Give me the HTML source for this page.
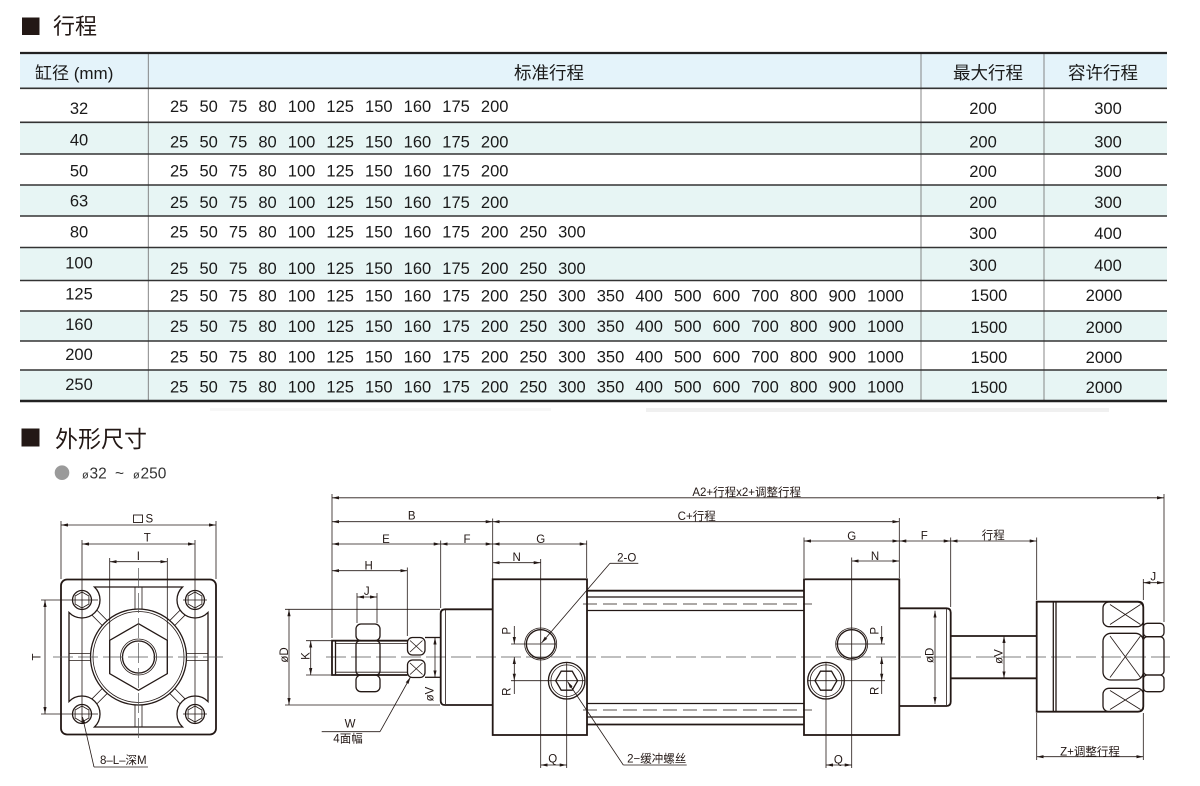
<!DOCTYPE html>
<html><head><meta charset="utf-8"><style>
html,body{margin:0;padding:0;background:#fff;}
svg{display:block;}
</style></head><body>
<svg width="1200" height="786" viewBox="0 0 1200 786" xmlns="http://www.w3.org/2000/svg" font-family="'Liberation Sans','Noto Sans CJK SC',sans-serif">
<style>
.o{fill:none;stroke:#231815;stroke-width:1.8}
.m{fill:none;stroke:#231815;stroke-width:1.3}
.t{fill:none;stroke:#231815;stroke-width:.8}
.d{fill:none;stroke:#231815;stroke-width:.8;marker-start:url(#a);marker-end:url(#a)}
.e{fill:none;stroke:#231815;stroke-width:.8;marker-end:url(#a)}
.c{fill:none;stroke:#555;stroke-width:.7;stroke-dasharray:20 5}
.l{font-size:11.5px;text-anchor:middle;fill:#231815}
.z{font-size:11.5px;text-anchor:middle;fill:#231815}
.n{font-size:16.5px;fill:#1a1a1a}
.nm{font-size:16.5px;fill:#1a1a1a;text-anchor:middle}
.h{font-size:17.5px;fill:#1a1a1a;text-anchor:middle}
</style>
<defs>
<marker id="a" viewBox="0 0 7 3.2" refX="7" refY="1.6" markerWidth="7" markerHeight="3.2" markerUnits="userSpaceOnUse" orient="auto-start-reverse" preserveAspectRatio="none"><path d="M0,0 L7,1.6 L0,3.2 z" fill="#231815"/></marker>
<g id="rib"><line x1="186.5" y1="653.5" x2="208" y2="653.5"/><line x1="186.5" y1="660.5" x2="208" y2="660.5"/></g>
<g id="drib"><line x1="186.4" y1="653.5" x2="201.1" y2="653.5"/><line x1="186.4" y1="660.5" x2="201.1" y2="660.5"/></g>
</defs>

<!-- Section 1 title -->
<rect x="22" y="17.5" width="17.5" height="17.5" fill="#231815"/>
<text x="53" y="34" font-size="22" fill="#231815">行程</text>

<!-- Table backgrounds -->
<rect x="20" y="53" width="1147" height="35.3" fill="#e4f3fa"/>
<rect x="20" y="122.3" width="1147" height="31.7" fill="#e7f5f4"/>
<rect x="20" y="185" width="1147" height="31" fill="#e7f5f4"/>
<rect x="20" y="247.5" width="1147" height="33" fill="#e7f5f4"/>
<rect x="20" y="311" width="1147" height="30" fill="#e7f5f4"/>
<rect x="20" y="370" width="1147" height="31" fill="#e7f5f4"/>

<!-- column lines -->
<g stroke="#7a7a7a" stroke-width=".9">
<line x1="148.3" y1="53" x2="148.3" y2="401"/>
<line x1="921" y1="53" x2="921" y2="401"/>
<line x1="1044" y1="53" x2="1044" y2="401"/>
</g>
<!-- row lines -->
<g stroke="#333" stroke-width="1.6">
<line x1="20" y1="88.3" x2="1167" y2="88.3"/>
<line x1="20" y1="122.3" x2="1167" y2="122.3"/>
<line x1="20" y1="154" x2="1167" y2="154"/>
<line x1="20" y1="185" x2="1167" y2="185"/>
<line x1="20" y1="216" x2="1167" y2="216"/>
<line x1="20" y1="247.5" x2="1167" y2="247.5"/>
<line x1="20" y1="280.5" x2="1167" y2="280.5"/>
<line x1="20" y1="311" x2="1167" y2="311"/>
<line x1="20" y1="341" x2="1167" y2="341"/>
<line x1="20" y1="370" x2="1167" y2="370"/>
</g>
<line x1="20" y1="53" x2="1167" y2="53" stroke="#222" stroke-width="2.2"/>
<line x1="20" y1="401" x2="1167" y2="401" stroke="#222" stroke-width="2.6"/>

<!-- header texts -->
<text x="35" y="79" font-size="17" fill="#1a1a1a">缸径 (mm)</text>
<text x="549" y="79" class="h">标准行程</text>
<text x="988" y="79" class="h">最大行程</text>
<text x="1103" y="79" class="h">容许行程</text>

<!-- bore column -->
<text x="79" y="113.9" class="nm">32</text>
<text x="79" y="145.4" class="nm">40</text>
<text x="79" y="176.6" class="nm">50</text>
<text x="79" y="206.6" class="nm">63</text>
<text x="79" y="237.6" class="nm">80</text>
<text x="79" y="268.6" class="nm">100</text>
<text x="79" y="299.4" class="nm">125</text>
<text x="79" y="329.9" class="nm">160</text>
<text x="79" y="359.9" class="nm">200</text>
<text x="79" y="389.9" class="nm">250</text>

<!-- stroke rows -->
<text y="111.9" class="n"><tspan x="170">25</tspan> <tspan x="199.45">50</tspan> <tspan x="228.9">75</tspan> <tspan x="258.35">80</tspan> <tspan x="287.8">100</tspan> <tspan x="326.42">125</tspan> <tspan x="365.04">150</tspan> <tspan x="403.66">160</tspan> <tspan x="442.28">175</tspan> <tspan x="480.9">200</tspan></text>
<text y="147.4" class="n"><tspan x="170">25</tspan> <tspan x="199.45">50</tspan> <tspan x="228.9">75</tspan> <tspan x="258.35">80</tspan> <tspan x="287.8">100</tspan> <tspan x="326.42">125</tspan> <tspan x="365.04">150</tspan> <tspan x="403.66">160</tspan> <tspan x="442.28">175</tspan> <tspan x="480.9">200</tspan></text>
<text y="176.6" class="n"><tspan x="170">25</tspan> <tspan x="199.45">50</tspan> <tspan x="228.9">75</tspan> <tspan x="258.35">80</tspan> <tspan x="287.8">100</tspan> <tspan x="326.42">125</tspan> <tspan x="365.04">150</tspan> <tspan x="403.66">160</tspan> <tspan x="442.28">175</tspan> <tspan x="480.9">200</tspan></text>
<text y="208.2" class="n"><tspan x="170">25</tspan> <tspan x="199.45">50</tspan> <tspan x="228.9">75</tspan> <tspan x="258.35">80</tspan> <tspan x="287.8">100</tspan> <tspan x="326.42">125</tspan> <tspan x="365.04">150</tspan> <tspan x="403.66">160</tspan> <tspan x="442.28">175</tspan> <tspan x="480.9">200</tspan></text>
<text y="237.6" class="n"><tspan x="170">25</tspan> <tspan x="199.45">50</tspan> <tspan x="228.9">75</tspan> <tspan x="258.35">80</tspan> <tspan x="287.8">100</tspan> <tspan x="326.42">125</tspan> <tspan x="365.04">150</tspan> <tspan x="403.66">160</tspan> <tspan x="442.28">175</tspan> <tspan x="480.9">200</tspan> <tspan x="519.52">250</tspan> <tspan x="558.14">300</tspan></text>
<text y="274.2" class="n"><tspan x="170">25</tspan> <tspan x="199.45">50</tspan> <tspan x="228.9">75</tspan> <tspan x="258.35">80</tspan> <tspan x="287.8">100</tspan> <tspan x="326.42">125</tspan> <tspan x="365.04">150</tspan> <tspan x="403.66">160</tspan> <tspan x="442.28">175</tspan> <tspan x="480.9">200</tspan> <tspan x="519.52">250</tspan> <tspan x="558.14">300</tspan></text>
<text y="301.6" class="n"><tspan x="170">25</tspan> <tspan x="199.45">50</tspan> <tspan x="228.9">75</tspan> <tspan x="258.35">80</tspan> <tspan x="287.8">100</tspan> <tspan x="326.42">125</tspan> <tspan x="365.04">150</tspan> <tspan x="403.66">160</tspan> <tspan x="442.28">175</tspan> <tspan x="480.9">200</tspan> <tspan x="519.52">250</tspan> <tspan x="558.14">300</tspan> <tspan x="596.76">350</tspan> <tspan x="635.38">400</tspan> <tspan x="674">500</tspan> <tspan x="712.62">600</tspan> <tspan x="751.24">700</tspan> <tspan x="789.86">800</tspan> <tspan x="828.48">900</tspan> <tspan x="867.1">1000</tspan></text>
<text y="332.2" class="n"><tspan x="170">25</tspan> <tspan x="199.45">50</tspan> <tspan x="228.9">75</tspan> <tspan x="258.35">80</tspan> <tspan x="287.8">100</tspan> <tspan x="326.42">125</tspan> <tspan x="365.04">150</tspan> <tspan x="403.66">160</tspan> <tspan x="442.28">175</tspan> <tspan x="480.9">200</tspan> <tspan x="519.52">250</tspan> <tspan x="558.14">300</tspan> <tspan x="596.76">350</tspan> <tspan x="635.38">400</tspan> <tspan x="674">500</tspan> <tspan x="712.62">600</tspan> <tspan x="751.24">700</tspan> <tspan x="789.86">800</tspan> <tspan x="828.48">900</tspan> <tspan x="867.1">1000</tspan></text>
<text y="362.6" class="n"><tspan x="170">25</tspan> <tspan x="199.45">50</tspan> <tspan x="228.9">75</tspan> <tspan x="258.35">80</tspan> <tspan x="287.8">100</tspan> <tspan x="326.42">125</tspan> <tspan x="365.04">150</tspan> <tspan x="403.66">160</tspan> <tspan x="442.28">175</tspan> <tspan x="480.9">200</tspan> <tspan x="519.52">250</tspan> <tspan x="558.14">300</tspan> <tspan x="596.76">350</tspan> <tspan x="635.38">400</tspan> <tspan x="674">500</tspan> <tspan x="712.62">600</tspan> <tspan x="751.24">700</tspan> <tspan x="789.86">800</tspan> <tspan x="828.48">900</tspan> <tspan x="867.1">1000</tspan></text>
<text y="392.6" class="n"><tspan x="170">25</tspan> <tspan x="199.45">50</tspan> <tspan x="228.9">75</tspan> <tspan x="258.35">80</tspan> <tspan x="287.8">100</tspan> <tspan x="326.42">125</tspan> <tspan x="365.04">150</tspan> <tspan x="403.66">160</tspan> <tspan x="442.28">175</tspan> <tspan x="480.9">200</tspan> <tspan x="519.52">250</tspan> <tspan x="558.14">300</tspan> <tspan x="596.76">350</tspan> <tspan x="635.38">400</tspan> <tspan x="674">500</tspan> <tspan x="712.62">600</tspan> <tspan x="751.24">700</tspan> <tspan x="789.86">800</tspan> <tspan x="828.48">900</tspan> <tspan x="867.1">1000</tspan></text>

<!-- right columns -->
<text x="983" y="113.9" class="nm">200</text><text x="1108" y="113.9" class="nm">300</text>
<text x="983" y="147.4" class="nm">200</text><text x="1108" y="147.4" class="nm">300</text>
<text x="983" y="176.9" class="nm">200</text><text x="1108" y="176.9" class="nm">300</text>
<text x="983" y="207.9" class="nm">200</text><text x="1108" y="207.9" class="nm">300</text>
<text x="983" y="238.9" class="nm">300</text><text x="1108" y="238.9" class="nm">400</text>
<text x="983" y="270.9" class="nm">300</text><text x="1108" y="270.9" class="nm">400</text>
<text x="989" y="300.9" class="nm">1500</text><text x="1104" y="300.9" class="nm">2000</text>
<text x="989" y="332.9" class="nm">1500</text><text x="1104" y="332.9" class="nm">2000</text>
<text x="989" y="362.9" class="nm">1500</text><text x="1104" y="362.9" class="nm">2000</text>
<text x="989" y="392.9" class="nm">1500</text><text x="1104" y="392.9" class="nm">2000</text>

<!-- faint artifacts -->
<rect x="646" y="408" width="463" height="4" fill="#f0f0f0"/>
<rect x="210" y="408" width="341" height="3" fill="#f7f7f7"/>

<!-- Section 2 title -->
<rect x="21.5" y="428.5" width="18" height="18" fill="#231815"/>
<text x="55" y="447" font-size="23" fill="#231815">外形尺寸</text>
<circle cx="62" cy="472.7" r="7.3" fill="#9a9a9a"/>
<text y="478.5" font-size="15.5" fill="#333"><tspan x="82" font-size="11">ø</tspan><tspan x="89.5">32</tspan> <tspan x="115">~</tspan> <tspan x="133" font-size="11">ø</tspan><tspan x="140.5">250</tspan></text>

<!-- ================= END VIEW ================= -->
<rect x="61" y="579.5" width="155" height="155" rx="6" class="o"/>
<path class="m" d="M94.45,587 L182.55,587 A18,18 0 1 0 208,612.45 L208,701.55 A18,18 0 1 0 182.55,727 L94.45,727 A18,18 0 1 0 69,701.55 L69,612.45 A18,18 0 1 0 94.45,587 Z"/>
<g class="t" stroke-width="1">
<use href="#rib"/>
<use href="#rib" transform="rotate(90 138.5 657)"/>
<use href="#rib" transform="rotate(180 138.5 657)"/>
<use href="#rib" transform="rotate(270 138.5 657)"/>
<use href="#drib" transform="rotate(45.2 138.5 657)"/>
<use href="#drib" transform="rotate(134.8 138.5 657)"/>
<use href="#drib" transform="rotate(225.2 138.5 657)"/>
<use href="#drib" transform="rotate(314.8 138.5 657)"/>
</g>
<!-- bolt holes -->
<circle cx="82" cy="600" r="9.5" class="m"/><polygon class="t" points="82,592 88.9,596 88.9,604 82,608 75.1,604 75.1,596"/>
<circle cx="195" cy="600" r="9.5" class="m"/><polygon class="t" points="195,592 201.9,596 201.9,604 195,608 188.1,604 188.1,596"/>
<circle cx="82" cy="714" r="9.5" class="m"/><polygon class="t" points="82,706 88.9,710 88.9,718 82,722 75.1,718 75.1,710"/>
<circle cx="195" cy="714" r="9.5" class="m"/><polygon class="t" points="195,706 201.9,710 201.9,718 195,722 188.1,718 188.1,710"/>
<circle cx="138.5" cy="657" r="48" class="m"/>
<circle cx="138.5" cy="657" r="45.5" class="t"/>
<polygon class="m" points="138.5,623.7 167.3,640.35 167.3,673.65 138.5,690.3 109.7,673.65 109.7,640.35"/>
<circle cx="138.5" cy="657" r="18" class="t"/>
<circle cx="138.5" cy="657" r="16" class="m"/>
<!-- end view center lines -->
<line x1="53" y1="657" x2="228" y2="657" class="c"/>
<line x1="138.5" y1="568" x2="138.5" y2="743" class="c"/>
<!-- end view dims -->
<line x1="61" y1="521" x2="61" y2="579" class="t"/>
<line x1="216" y1="521" x2="216" y2="579" class="t"/>
<line x1="61" y1="525" x2="216" y2="525" class="d"/>
<rect x="133.5" y="515" width="9" height="7.5" fill="none" stroke="#231815" stroke-width=".9"/>
<text x="149.3" y="522.3" class="l">S</text>
<line x1="82" y1="540" x2="82" y2="723" class="t"/>
<line x1="195" y1="540" x2="195" y2="723" class="t"/>
<line x1="82" y1="544" x2="195" y2="544" class="d"/>
<text x="147.3" y="541.7" class="l">T</text>
<line x1="109.7" y1="558" x2="109.7" y2="674" class="t"/>
<line x1="167.3" y1="558" x2="167.3" y2="674" class="t"/>
<line x1="109.7" y1="561.7" x2="167.3" y2="561.7" class="d"/>
<text x="138.3" y="560" class="l">I</text>
<line x1="41" y1="600" x2="98" y2="600" class="t"/>
<line x1="41" y1="714" x2="98" y2="714" class="t"/>
<line x1="183" y1="600" x2="207" y2="600" class="t"/>
<line x1="183" y1="714" x2="207" y2="714" class="t"/>
<line x1="45" y1="600" x2="45" y2="714" class="d"/>
<text transform="translate(40.5,657) rotate(-90)" class="l">T</text>
<line x1="94" y1="767" x2="148" y2="767" class="t"/>
<line x1="94" y1="767" x2="82.5" y2="717" class="e"/>
<text x="123.3" y="764" class="z">8–L–深M</text>

<!-- ================= SIDE VIEW ================= -->
<line x1="326" y1="657" x2="1170" y2="657" class="c"/>

<!-- front threaded rod -->
<line x1="336" y1="643.5" x2="407" y2="643.5" class="t"/>
<line x1="336" y1="672.2" x2="407" y2="672.2" class="t"/>
<path class="o" d="M407.5,640.7 H332 V675 H407.5"/>
<line x1="335.5" y1="641" x2="335.5" y2="675" class="m"/>
<!-- nut -->
<rect x="356" y="624" width="24" height="16.7" rx="5" fill="#fff" class="m"/>
<rect x="356" y="640.7" width="24" height="34.3" rx="4" fill="#fff" class="m"/>
<rect x="356" y="675" width="24" height="16.7" rx="5" fill="#fff" class="m"/>
<!-- wrench flats -->
<rect x="407.5" y="637.5" width="17.5" height="17.5" rx="5" fill="#fff" class="m"/>
<rect x="407.5" y="660" width="17.5" height="17.5" rx="5" fill="#fff" class="m"/>
<g class="t">
<line x1="410" y1="640.5" x2="422.5" y2="652"/><line x1="422.5" y1="640.5" x2="410" y2="652"/>
<line x1="410" y1="663" x2="422.5" y2="674.5"/><line x1="422.5" y1="663" x2="410" y2="674.5"/>
</g>
<line x1="425" y1="637.5" x2="441" y2="637.5" class="m"/>
<line x1="425" y1="677.3" x2="441" y2="677.3" class="m"/>
<!-- front rod cover -->
<path class="o" d="M492.7,609.3 H445 Q440.7,609.3 440.7,613.6 V700.7 Q440.7,705 445,705 H492.7"/>
<line x1="445.5" y1="610" x2="445.5" y2="704" class="t"/>
<!-- front cover -->
<rect x="492.7" y="579.3" width="94.3" height="155.7" class="o"/>
<!-- tube -->
<line x1="587" y1="590.7" x2="804" y2="590.7" class="o"/>
<line x1="587" y1="724.5" x2="804" y2="724.5" class="o"/>
<g class="m" stroke-width="1.5">
<line x1="587" y1="597" x2="804" y2="597"/>
<line x1="587" y1="610.5" x2="804" y2="610.5"/>
<line x1="587" y1="703.5" x2="804" y2="703.5"/>
<line x1="587" y1="717" x2="804" y2="717"/>
</g>
<line x1="583" y1="604" x2="812" y2="604" class="t" stroke-dasharray="14 6"/>
<line x1="583" y1="710" x2="812" y2="710" class="t" stroke-dasharray="14 6"/>
<!-- rear cover -->
<rect x="804" y="579.3" width="95.3" height="155.7" class="o"/>
<!-- rear rod cover -->
<path class="o" d="M899.3,608.3 H946.5 Q950.7,608.3 950.7,612.5 V701.8 Q950.7,706 946.5,706 H899.3"/>
<line x1="946.5" y1="609" x2="946.5" y2="705" class="t"/>
<!-- rear rod -->
<line x1="950.7" y1="636" x2="1036.7" y2="636" class="o"/>
<line x1="950.7" y1="678.3" x2="1036.7" y2="678.3" class="o"/>
<!-- adjuster body -->
<path class="o" d="M1036.7,601.7 H1138 Q1143.3,601.7 1143.3,607 V706.4 Q1143.3,711.7 1138,711.7 H1036.7 Z"/>
<line x1="1053.3" y1="602" x2="1053.3" y2="711.5" class="m"/>
<line x1="1056" y1="602" x2="1056" y2="711.5" class="m"/>
<rect x="1103" y="602" width="40.3" height="24.7" rx="6" fill="#fff" class="m"/>
<rect x="1103" y="633.3" width="40.3" height="46.7" rx="8" fill="#fff" class="m"/>
<rect x="1103" y="688.3" width="40.3" height="23.4" rx="6" fill="#fff" class="m"/>
<g class="t">
<line x1="1110" y1="604.5" x2="1140.5" y2="624.5"/><line x1="1140.5" y1="604.5" x2="1110" y2="624.5"/>
<line x1="1110" y1="636" x2="1140.5" y2="677.5"/><line x1="1140.5" y1="636" x2="1110" y2="677.5"/>
<line x1="1110" y1="690.5" x2="1140.5" y2="709.5"/><line x1="1140.5" y1="690.5" x2="1110" y2="709.5"/>
</g>
<!-- rear nut -->
<rect x="1143.3" y="623.3" width="20.7" height="13.4" rx="4" fill="#fff" class="m"/>
<rect x="1143.3" y="636.7" width="20.7" height="38.3" rx="4" fill="#fff" class="m"/>
<rect x="1143.3" y="675" width="20.7" height="16.7" rx="4" fill="#fff" class="m"/>

<!-- ports & sockets -->
<line x1="511" y1="644" x2="556" y2="644" class="t"/>
<line x1="511" y1="680.7" x2="585" y2="680.7" class="t"/>
<line x1="836" y1="644" x2="885" y2="644" class="t"/>
<line x1="808" y1="680.7" x2="885" y2="680.7" class="t"/>
<circle cx="540.7" cy="644" r="16" class="t"/>
<circle cx="540.7" cy="644" r="14.3" class="m" stroke-width="1.4"/>
<circle cx="851.7" cy="644" r="16" class="t"/>
<circle cx="851.7" cy="644" r="14.3" class="m" stroke-width="1.4"/>
<circle cx="566.7" cy="680.7" r="18.3" class="m" stroke-width="1.4"/>
<circle cx="566.7" cy="680.7" r="15.8" class="t"/>
<polygon class="m" stroke-width="1.1" points="577.7,680.7 572.2,690.2 561.2,690.2 555.7,680.7 561.2,671.2 572.2,671.2"/>
<circle cx="826" cy="680.7" r="18.3" class="m" stroke-width="1.4"/>
<circle cx="826" cy="680.7" r="15.8" class="t"/>
<polygon class="m" stroke-width="1.1" points="837,680.7 831.5,690.2 820.5,690.2 815,680.7 820.5,671.2 831.5,671.2"/>

<!-- extension lines -->
<g class="t">
<line x1="332" y1="494" x2="332" y2="638"/>
<line x1="1164" y1="494" x2="1164" y2="622"/>
<line x1="492.7" y1="518.5" x2="492.7" y2="579"/>
<line x1="440.7" y1="540.5" x2="440.7" y2="608"/>
<line x1="407.3" y1="567.5" x2="407.3" y2="636"/>
<line x1="357" y1="593" x2="357" y2="623"/>
<line x1="377" y1="593" x2="377" y2="623"/>
<line x1="586.7" y1="540.5" x2="586.7" y2="578"/>
<line x1="540.7" y1="559" x2="540.7" y2="768"/>
<line x1="566.7" y1="662" x2="566.7" y2="768"/>
<line x1="804" y1="537.5" x2="804" y2="578"/>
<line x1="851.7" y1="557.5" x2="851.7" y2="768"/>
<line x1="826" y1="662" x2="826" y2="768"/>
<line x1="899.3" y1="518" x2="899.3" y2="578"/>
<line x1="950.7" y1="537.5" x2="950.7" y2="607"/>
<line x1="1036.7" y1="537.5" x2="1036.7" y2="600"/>
<line x1="1036.7" y1="713" x2="1036.7" y2="760"/>
<line x1="1143.3" y1="579" x2="1143.3" y2="600"/>
<line x1="1143.3" y1="713" x2="1143.3" y2="760"/>
<line x1="285" y1="609.3" x2="440" y2="609.3"/>
<line x1="285" y1="705" x2="440" y2="705"/>
<line x1="306" y1="640.7" x2="331" y2="640.7"/>
<line x1="306" y1="675" x2="331" y2="675"/>
</g>

<!-- dimension lines -->
<line x1="332" y1="497.8" x2="1164" y2="497.8" class="d"/>
<line x1="332" y1="521.7" x2="492.7" y2="521.7" class="d"/>
<line x1="492.7" y1="521.7" x2="899.3" y2="521.7" class="d"/>
<line x1="332" y1="544" x2="440.7" y2="544" class="d"/>
<line x1="440.7" y1="544" x2="492.7" y2="544" class="d"/>
<line x1="492.7" y1="544" x2="586.7" y2="544" class="d"/>
<line x1="492.7" y1="562.7" x2="540.7" y2="562.7" class="d"/>
<line x1="332" y1="570.7" x2="407.3" y2="570.7" class="d"/>
<line x1="357" y1="597" x2="377" y2="597" class="d"/>
<line x1="540.7" y1="765" x2="566.7" y2="765" class="d"/>
<line x1="804" y1="541" x2="899.3" y2="541" class="d"/>
<line x1="899.3" y1="541" x2="950.7" y2="541" class="d"/>
<line x1="950.7" y1="541" x2="1036.7" y2="541" class="d"/>
<line x1="851.7" y1="561" x2="899.3" y2="561" class="d"/>
<line x1="1143.3" y1="582.7" x2="1164" y2="582.7" class="d"/>
<line x1="826" y1="765" x2="851.7" y2="765" class="d"/>
<line x1="1036.7" y1="756.7" x2="1143.3" y2="756.7" class="d"/>
<line x1="289" y1="609.3" x2="289" y2="705" class="d"/>
<line x1="310.7" y1="640.7" x2="310.7" y2="675" class="d"/>
<line x1="435" y1="637.5" x2="435" y2="677.3" class="d"/>
<line x1="935" y1="610.7" x2="935" y2="704" class="d"/>
<line x1="1004" y1="636" x2="1004" y2="678.3" class="d"/>
<!-- P / R front -->
<line x1="514.3" y1="626" x2="514.3" y2="644" class="e"/>
<line x1="514.3" y1="657" x2="514.3" y2="680.7" class="d"/>
<line x1="514.3" y1="680.7" x2="514.3" y2="694" class="t"/>
<!-- P / R rear -->
<line x1="881.7" y1="626" x2="881.7" y2="644" class="e"/>
<line x1="881.7" y1="657" x2="881.7" y2="680.7" class="d"/>
<line x1="881.7" y1="680.7" x2="881.7" y2="694" class="t"/>

<!-- leaders -->
<line x1="610" y1="563.3" x2="638.3" y2="563.3" class="t"/>
<line x1="610" y1="563.3" x2="541.5" y2="643" class="e"/>
<line x1="623.3" y1="765" x2="686.7" y2="765" class="t"/>
<line x1="623.3" y1="765" x2="567.5" y2="681.5" class="e"/>
<line x1="321.7" y1="731.7" x2="380" y2="731.7" class="t"/>
<line x1="380" y1="731.7" x2="410.5" y2="677" class="e"/>

<!-- labels -->
<text x="746.7" y="496" class="z">A2+行程x2+调整行程</text>
<text x="411.7" y="519.3" class="l">B</text>
<text x="696.7" y="519.8" class="z">C+行程</text>
<text x="386" y="543" class="l">E</text>
<text x="467" y="543" class="l">F</text>
<text x="540.7" y="543" class="l">G</text>
<text x="516.7" y="561.2" class="l">N</text>
<text x="368.7" y="569.3" class="l">H</text>
<text x="366.7" y="595" class="l">J</text>
<text x="552.7" y="762.7" class="l">Q</text>
<text x="851.7" y="540" class="l">G</text>
<text x="924.3" y="539.3" class="l">F</text>
<text x="993.3" y="539" class="z">行程</text>
<text x="875" y="560" class="l">N</text>
<text x="1153.3" y="580.7" class="l">J</text>
<text x="838.3" y="763.5" class="l">Q</text>
<text x="1090" y="755.3" class="z">Z+调整行程</text>
<text x="626.7" y="561.5" class="z" font-size="12">2-O</text>
<text x="656.7" y="762.5" class="z" font-size="12">2−缓冲螺丝</text>
<text x="350" y="727.5" class="l">W</text>
<text x="348" y="742.5" class="z" font-size="10.5">4面幅</text>
<text transform="translate(288,655) rotate(-90)" class="l">øD</text>
<text transform="translate(309.5,656) rotate(-90)" class="l">K</text>
<text transform="translate(433.5,694) rotate(-90)" class="l">øV</text>
<text transform="translate(510.7,630.8) rotate(-90)" class="l">P</text>
<text transform="translate(510.7,691.7) rotate(-90)" class="l">R</text>
<text transform="translate(878.5,630.8) rotate(-90)" class="l">P</text>
<text transform="translate(878.5,690.8) rotate(-90)" class="l">R</text>
<text transform="translate(933.5,655.3) rotate(-90)" class="l">øD</text>
<text transform="translate(1002.5,656.5) rotate(-90)" class="l">øV</text>
</svg>
</body></html>
